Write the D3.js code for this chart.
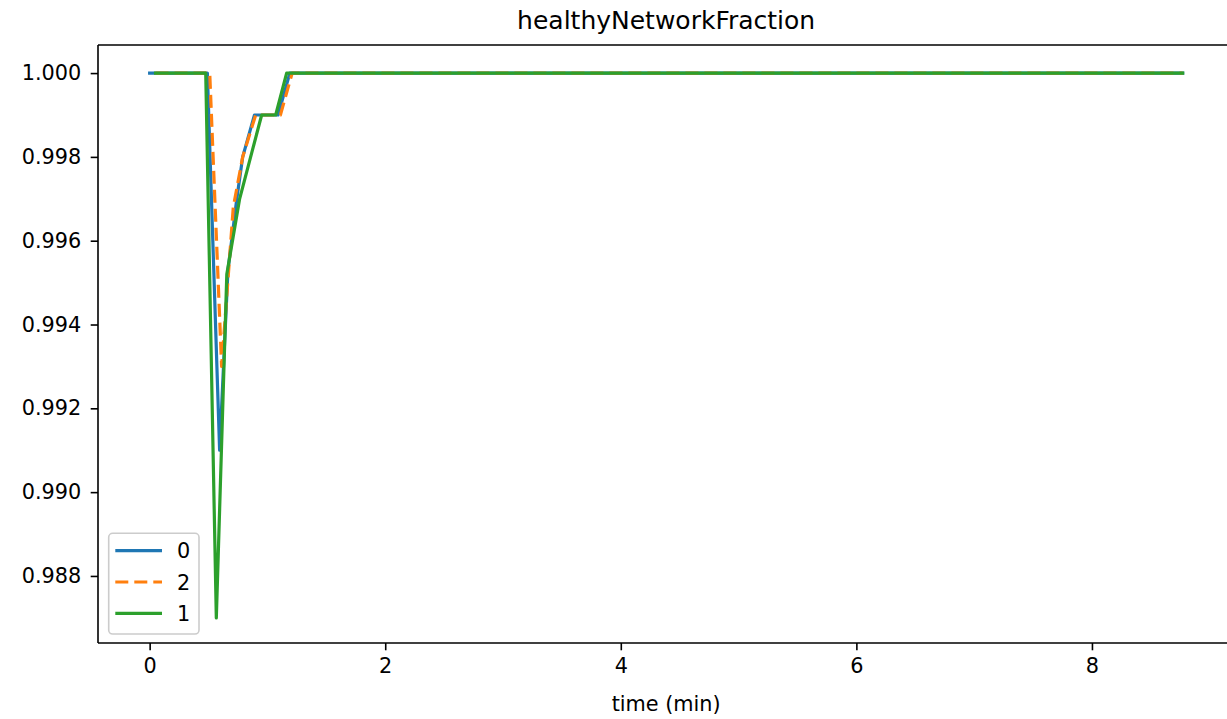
<!DOCTYPE html>
<html>
<head>
<meta charset="utf-8">
<script src="https://cdn.jsdelivr.net/npm/d3@7"></script>
<style>
  html, body { margin: 0; padding: 0; background: #fff; }
  svg { display: block; font-family: "DejaVu Sans", sans-serif; }
</style>
</head>
<body>
<svg id="chart" width="1227" height="719"></svg>
<script>
// ---- data ----
const seriesNames = ["0", "2", "1"];
const time0  = [0, 0.49, 0.594, 0.665, 0.74, 0.79, 0.89, 1.09, 1.19, 8.77];
const value0 = [1.000, 1.000, 0.991, 0.9953, 0.997, 0.998, 0.999, 0.999, 1.000, 1.000];
const time2  = [0.05, 0.51, 0.611, 0.71, 0.79, 0.90, 1.11, 1.21, 8.77];
const value2 = [1.000, 1.000, 0.993, 0.9968, 0.998, 0.999, 0.999, 1.000, 1.000];
const time1  = [0.05, 0.476, 0.566, 0.655, 0.764, 0.951, 1.07, 1.163, 8.77];
const value1 = [1.000, 1.000, 0.987, 0.9952, 0.997, 0.999, 0.999, 1.000, 1.000];
const xTicks = [0, 2, 4, 6, 8];
const yTicks = [0.988, 0.990, 0.992, 0.994, 0.996, 0.998, 1.000];
const colors = ["#1f77b4", "#ff7f0e", "#2ca02c"];
const titleText = "healthyNetworkFraction";
const xLabel = "time (min)";

const series = [
  { name: seriesNames[0], t: time0, v: value0, color: colors[0], dash: null },
  { name: seriesNames[1], t: time2, v: value2, color: colors[1], dash: "13,6" },
  { name: seriesNames[2], t: time1, v: value1, color: colors[2], dash: null }
];

// ---- layout ----
const L = 98, T = 45, B = 643, R = 1234.3;
const FS = 20.8;
const svg = d3.select("#chart");

const x = d3.scaleLinear().domain([-0.4385, 9.2085]).range([L, R]);
const y = d3.scaleLinear().domain([0.98640, 1.00067]).range([B, T]);

// lines
const line = d3.line().x(d => x(d[0])).y(d => y(d[1]));
series.forEach(s => {
  const pts = s.t.map((t, i) => [t, s.v[i]]);
  svg.append("path")
    .datum(pts)
    .attr("d", line)
    .attr("fill", "none")
    .attr("stroke", s.color)
    .attr("stroke-width", 3.2)
    .attr("stroke-linejoin", "round")
    .attr("stroke-linecap", s.dash ? "butt" : "square")
    .attr("stroke-dasharray", s.dash);
});

// spines
const spine = svg.append("g").attr("stroke", "#000").attr("stroke-width", 1.6).attr("fill", "none");
spine.append("line").attr("x1", L).attr("x2", L).attr("y1", T).attr("y2", B);
spine.append("line").attr("x1", L).attr("x2", R).attr("y1", B).attr("y2", B);
spine.append("line").attr("x1", L).attr("x2", R).attr("y1", T).attr("y2", T);
spine.append("line").attr("x1", R).attr("x2", R).attr("y1", T).attr("y2", B);

// x axis
const xAxis = d3.axisBottom(x).tickValues(xTicks).tickSize(7.3).tickPadding(8).tickFormat(d3.format("d"));
const gx = svg.append("g").attr("transform", `translate(0,${B})`).call(xAxis);
gx.select(".domain").remove();
gx.selectAll(".tick line").attr("stroke", "#000").attr("stroke-width", 1.6);
gx.selectAll(".tick text").attr("font-size", FS).attr("fill", "#000")
  .attr("font-family", "DejaVu Sans");

// y axis
const yAxis = d3.axisLeft(y).tickValues(yTicks).tickSize(7.3).tickPadding(9.5).tickFormat(d3.format(".3f"));
const gy = svg.append("g").attr("transform", `translate(${L},0)`).call(yAxis);
gy.select(".domain").remove();
gy.selectAll(".tick line").attr("stroke", "#000").attr("stroke-width", 1.6);
gy.selectAll(".tick text").attr("font-size", FS).attr("fill", "#000")
  .attr("font-family", "DejaVu Sans");

// title and label
svg.append("text").attr("x", (L + R) / 2).attr("y", 29).attr("text-anchor", "middle")
  .attr("font-size", 25).attr("fill", "#000").text(titleText);
svg.append("text").attr("x", (L + R) / 2).attr("y", 711).attr("text-anchor", "middle")
  .attr("font-size", FS).attr("fill", "#000").text(xLabel);

// legend
const lg = svg.append("g");
lg.append("rect").attr("x", 108.7).attr("y", 533.3).attr("width", 90.3).attr("height", 100.7)
  .attr("rx", 4).attr("fill", "#fff").attr("fill-opacity", 0.8)
  .attr("stroke", "#cccccc").attr("stroke-width", 1.6);
series.forEach((s, i) => {
  const yy = 550.7 + i * 31.3;
  lg.append("line").attr("x1", 115.3).attr("x2", 162).attr("y1", yy).attr("y2", yy)
    .attr("stroke", s.color).attr("stroke-width", 3.2)
    .attr("stroke-dasharray", s.dash);
  lg.append("text").attr("x", 177).attr("y", yy + 7.5).attr("font-size", FS)
    .attr("fill", "#000").text(s.name);
});
</script>
</body>
</html>
